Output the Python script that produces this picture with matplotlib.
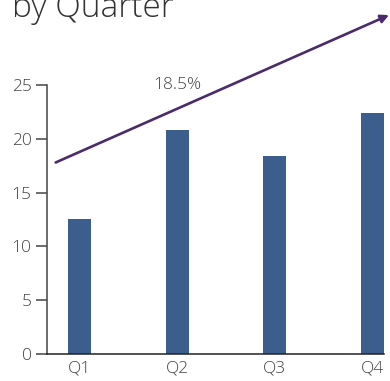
import matplotlib.pyplot as plt
from matplotlib import font_manager

quarters = ["Q1", "Q2", "Q3", "Q4"]
sales = [12.5, 20.8, 18.4, 22.4]
y_ticks = [0, 5, 10, 15, 20, 25]
growth_label = "18.5%"

# pick a light sans face if one is installed
names = {f.name for f in font_manager.fontManager.ttflist}
family = "Open Sans" if "Open Sans" in names else "DejaVu Sans"
plt.rcParams["font.family"] = [family, "DejaVu Sans"]
plt.rcParams["font.weight"] = 300

fig = plt.figure(figsize=(3.9, 3.81), dpi=100)
ax = fig.add_axes([0.1205, 0.0709, 0.864, 0.706])

x = list(range(len(quarters)))
ax.bar(x, sales, width=0.235, color="#3c5e8c", zorder=2)

ax.set_xlim(-0.333, 3.118)
ax.set_ylim(0, 25)
ax.set_xticks(x)
ax.set_xticklabels(quarters)
ax.set_yticks(y_ticks)

for side in ("top", "right"):
    ax.spines[side].set_visible(False)
ax.spines["left"].set_color("#444444")
ax.spines["bottom"].set_color("#222222")
ax.spines["left"].set_linewidth(1.1)
ax.spines["bottom"].set_linewidth(1.1)
ax.tick_params(axis="y", length=8, width=1.1, color="#444444",
               labelsize=12.5, labelcolor="#444444", pad=3)
ax.tick_params(axis="x", length=0, labelsize=12.5, labelcolor="#444444", pad=5)

# growth trend arrow
ax.annotate("", xy=(3.17, 31.5), xytext=(-0.244, 17.8),
            xycoords="data", textcoords="data", annotation_clip=False,
            arrowprops=dict(arrowstyle="-|>", color="#4b2b6b", lw=1.9,
                            mutation_scale=12, shrinkA=0, shrinkB=0))
ax.text(1, 25, growth_label, ha="center", va="center", fontsize=12.5,
        color="#444444", clip_on=False)

fig.text(0.03, 0.955, "by Quarter", fontsize=24, color="#333333",
         ha="left", va="baseline")

fig.savefig("out.png", dpi=100)
